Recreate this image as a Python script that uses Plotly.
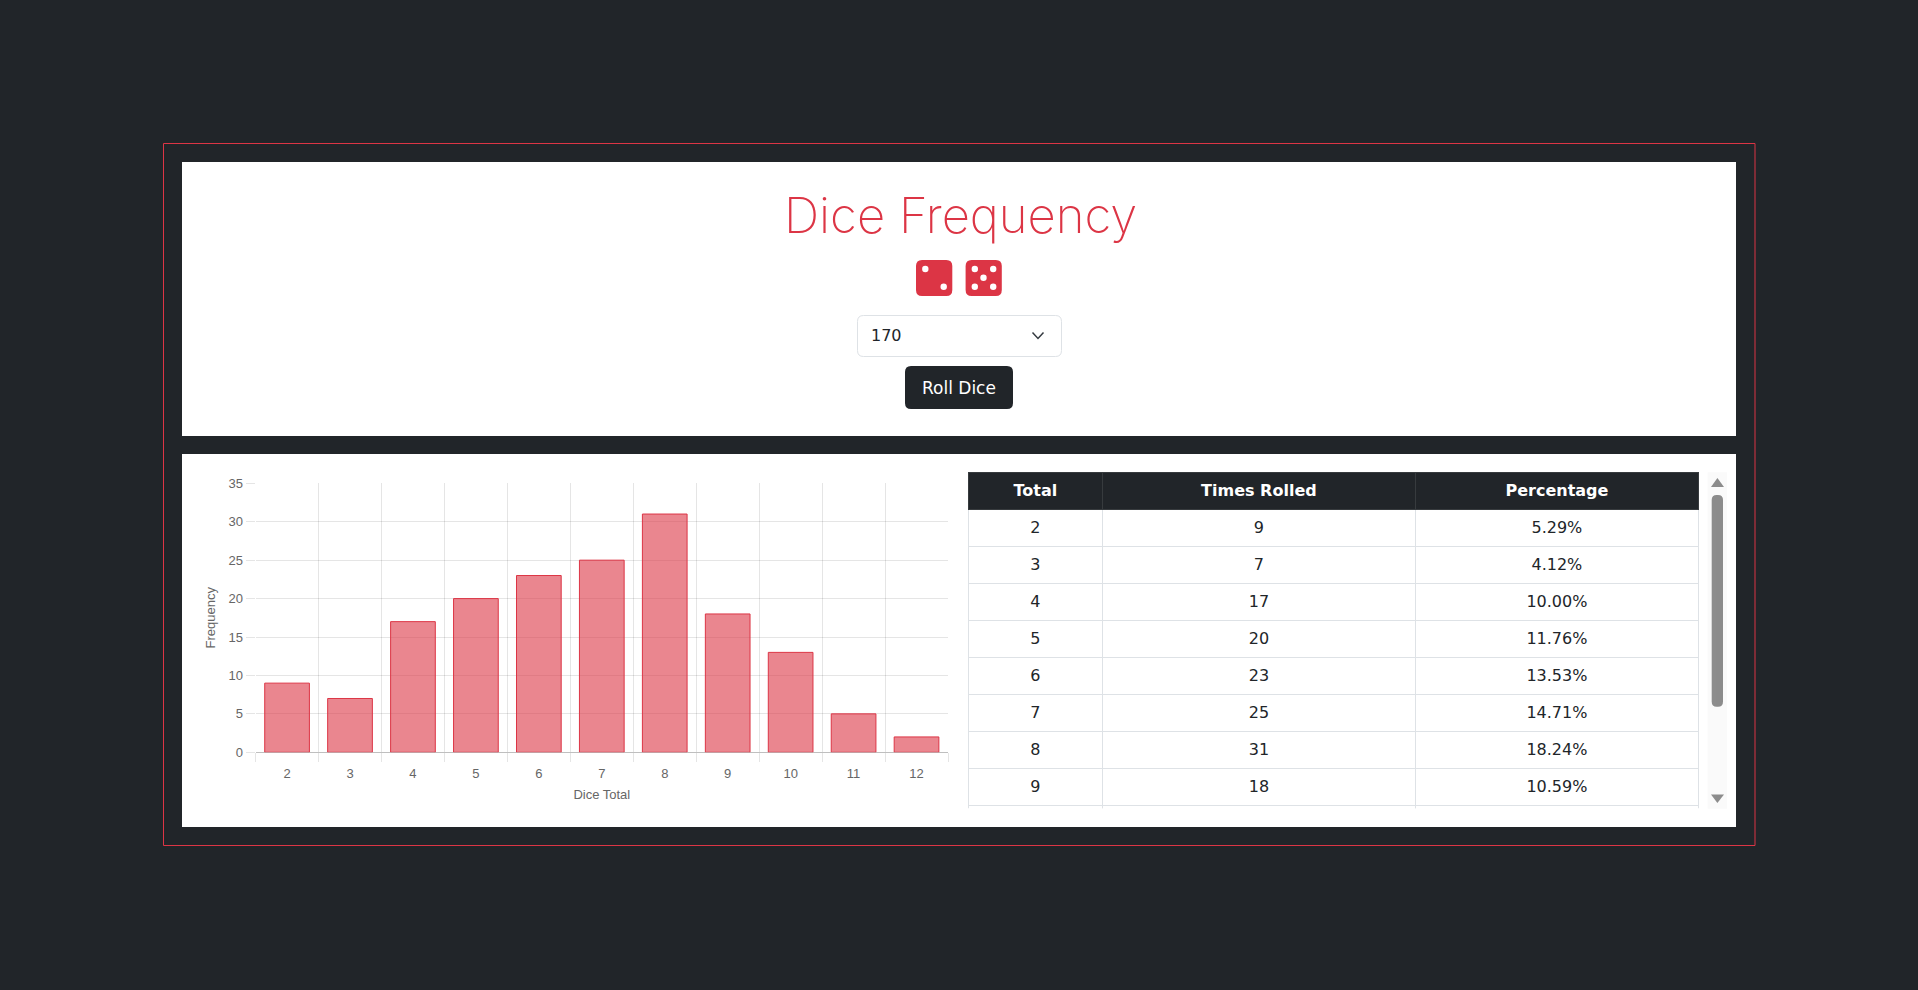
"""Dice frequency page: bar chart, results table and the controls above them."""
import plotly.graph_objects as go

W, H = 1918, 990

dice_totals = ["2", "3", "4", "5", "6", "7", "8", "9", "10", "11", "12"]
times_rolled = [9, 7, 17, 20, 23, 25, 31, 18, 13, 5, 2]
percentages = ["5.29%", "4.12%", "10.00%", "11.76%", "13.53%", "14.71%",
               "18.24%", "10.59%", "7.65%", "2.94%", "1.18%"]
table_headers = ["Total", "Times Rolled", "Percentage"]
y_ticks = [0, 5, 10, 15, 20, 25, 30, 35]

DARK = "#212529"
RED = "#dc3545"
UI_FONT = "DejaVu Sans"
TITLE_FONT = "Inter"
CHART_TEXT = "#666666"

# plain body margin, and table text sits a little lower than plotly puts it
PAGE_JS = """
document.body.style.margin = '0';
document.body.style.background = '%s';
var s = document.createElement('style');
s.textContent = '.table .cell-text { translate: 0 3.5px; }';
document.head.appendChild(s);
""" % DARK


def px(x):
    return x / W


def py(y):
    return 1 - y / H


def rect(x0, y0, x1, y1, fill, line=None, width=1):
    return dict(type="rect", xref="paper", yref="paper", layer="below",
                x0=px(x0), x1=px(x1), y0=py(y0), y1=py(y1), fillcolor=fill,
                line=dict(color=line, width=width if line else 0))


def rounded(x0, y0, x1, y1, r, fill, line=None):
    x = [px(v) for v in (x0, x0 + r, x1 - r, x1)]
    y = [py(v) for v in (y0, y0 + r, y1 - r, y1)]
    path = (f"M{x[1]},{y[0]} L{x[2]},{y[0]} Q{x[3]},{y[0]} {x[3]},{y[1]} "
            f"L{x[3]},{y[2]} Q{x[3]},{y[3]} {x[2]},{y[3]} "
            f"L{x[1]},{y[3]} Q{x[0]},{y[3]} {x[0]},{y[2]} "
            f"L{x[0]},{y[1]} Q{x[0]},{y[0]} {x[1]},{y[0]} Z")
    return dict(type="path", xref="paper", yref="paper", layer="below", path=path,
                fillcolor=fill, line=dict(color=line, width=1 if line else 0))


def polyline(points, fill=None, line=None, width=1.5, close=False):
    path = "M" + " L".join(f"{px(a)},{py(b)}" for a, b in points) + (" Z" if close else "")
    return dict(type="path", xref="paper", yref="paper", layer="below", path=path,
                fillcolor=fill, line=dict(color=line, width=width if line else 0))


def pip(x, y, r=3.2):
    return dict(type="circle", xref="paper", yref="paper", layer="below",
                x0=px(x - r), x1=px(x + r), y0=py(y - r), y1=py(y + r),
                fillcolor="white", line=dict(width=0))


def label(x, y, text, size, color, anchor="center", weight=None, family=UI_FONT):
    return dict(xref="paper", yref="paper", x=px(x), y=py(y), text=text, showarrow=False,
                xanchor=anchor, yanchor="middle",
                font=dict(family=family, size=size, color=color, weight=weight))


shapes = [
    rect(163.5, 143.5, 1755, 845.5, DARK, RED),
    rect(182, 162, 1736, 436, "white"),
    rect(182, 454, 1736, 827, "white"),
    # dice
    rounded(916, 260, 952.3, 296, 6, RED),
    pip(925.3, 269), pip(943.7, 286.7),
    rounded(965.6, 260, 1001.8, 296, 6, RED),
    pip(974.8, 269), pip(993.2, 269), pip(983.5, 277.7), pip(974.8, 286.7), pip(993.2, 286.7),
    # select and button
    rounded(857.5, 315.5, 1061.5, 356.5, 6, "white", "#dee2e6"),
    polyline([(1032.5, 332.5), (1038, 338.5), (1043.5, 332.5)], line="#343a40"),
    rounded(905, 366, 1013, 409, 6, DARK),
    # table scrollbar
    rect(1707.6, 472.3, 1727, 808.7, "#fafafa"),
    rounded(1711.7, 495, 1723, 706.7, 5, "#8c8c8c"),
    polyline([(1717.4, 478), (1724, 487), (1711, 487)], fill="#8c8c8c", close=True),
    polyline([(1717.4, 803), (1724, 794.5), (1711, 794.5)], fill="#8c8c8c", close=True),
]

annotations = [
    label(960, 216, "Dice Frequency", 49, RED, weight=200, family=TITLE_FONT),
    label(868.5, 336, "170", 16, DARK, anchor="left"),
    label(959, 387.5, "Roll Dice", 17, "white"),
]

grid = "rgba(0,0,0,0.1)"
chart_font = dict(family="Liberation Sans", size=13, color=CHART_TEXT)

fig = go.Figure()
fig.add_trace(go.Bar(
    x=dice_totals, y=times_rolled, width=0.71,
    marker=dict(color="rgba(220,53,69,0.6)", line=dict(color=RED, width=1)),
))
fig.add_trace(go.Table(
    domain=dict(x=[px(968.4), px(1698.5)], y=[py(808.7), py(472.3)]),
    columnwidth=[134, 313, 283],
    header=dict(values=table_headers, height=37, align="center",
                fill_color=DARK, line_color="#373b3e",
                font=dict(family=UI_FONT, size=16, color="white", weight=700)),
    cells=dict(values=[dice_totals, times_rolled, percentages], height=37, align="center",
               fill_color="white", line_color="#dee2e6",
               font=dict(family=UI_FONT, size=16, color=DARK)),
))

fig.update_layout(
    template="none",
    width=W, height=H,
    margin=dict(l=0, r=0, t=0, b=0, pad=0, autoexpand=False),
    paper_bgcolor=DARK, plot_bgcolor="rgba(0,0,0,0)",
    showlegend=False, shapes=shapes, annotations=annotations,
    font=chart_font,
    xaxis=dict(domain=[px(255.6), px(948)], type="category", tickson="boundaries",
               range=[-0.5, 10.5], showgrid=True, gridcolor=grid, gridwidth=1,
               ticks="outside", ticklen=9, tickcolor=grid, showline=False, zeroline=False,
               ticklabelstandoff=12, automargin=False, tickfont=chart_font,
               title=dict(text="Dice Total", standoff=9, font=chart_font)),
    yaxis=dict(domain=[py(752.3), py(483.3)], range=[0, 35], tickvals=y_ticks,
               showgrid=True, gridcolor=grid, gridwidth=1, zeroline=True,
               zerolinecolor="rgba(0,0,0,0.25)", zerolinewidth=1,
               ticks="outside", ticklen=9, tickcolor=grid, showline=False, automargin=False,
               tickfont=chart_font, title=dict(text="Frequency", standoff=9, font=chart_font)),
)

fig.write_html("out.html", config={"displayModeBar": False}, post_script=PAGE_JS)
